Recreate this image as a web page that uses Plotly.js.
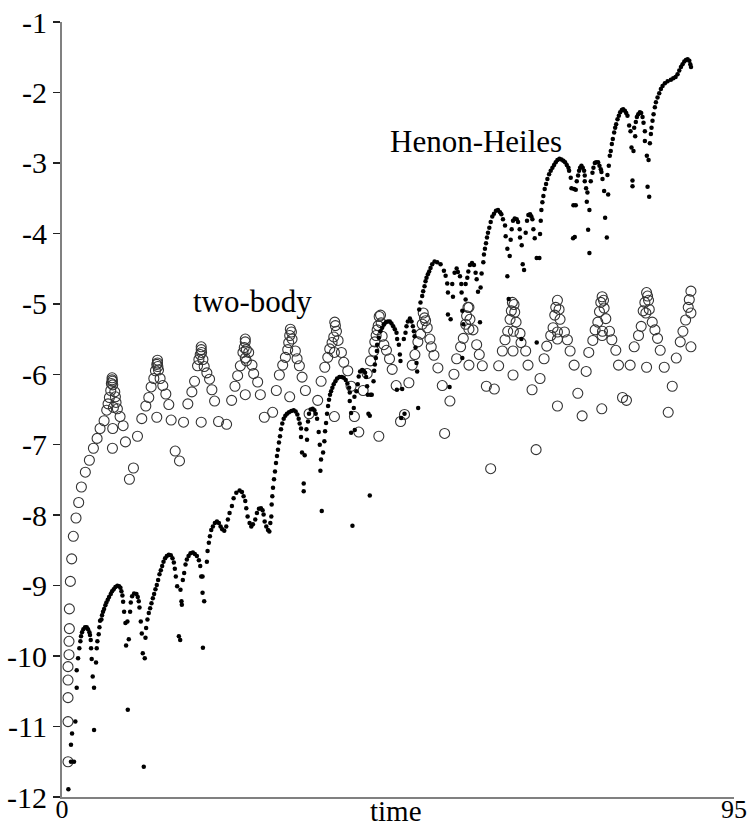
<!DOCTYPE html>
<html>
<head>
<meta charset="utf-8">
<script src="https://cdn.plot.ly/plotly-3.0.1.min.js"></script>
<style>
html,body{margin:0;padding:0;background:#fff;}
#chart{width:751px;height:827px;}
</style>
</head>
<body>
<div id="chart"></div>
<script>
// Henon-Heiles: time and log10 error (filled dots)
var hhTime = [
0.90,1.27,1.70,1.27,1.42,1.89,2.08,2.08,2.27,2.45,2.60,2.69,2.83,3.02,3.26,3.49,3.68,3.87,3.96,4.06,
4.11,4.20,4.34,4.53,4.53,4.81,4.91,5.00,5.19,5.29,5.38,5.57,5.66,5.80,5.95,6.13,6.28,6.47,6.65,6.89,
7.08,7.31,7.55,7.83,8.07,8.26,8.40,8.54,8.64,8.78,8.97,9.06,9.25,9.30,9.44,9.63,9.72,9.91,10.19,10.52,
10.71,10.85,10.95,11.14,11.28,11.42,11.70,11.56,11.80,11.89,12.08,12.27,12.46,12.65,12.84,13.02,13.21,13.40,13.59,13.78,
13.97,14.16,14.35,14.58,14.82,15.10,15.38,15.62,15.81,15.95,16.09,16.28,16.52,16.71,16.75,16.89,16.94,17.08,17.27,17.46,
17.65,17.89,18.17,18.50,18.78,19.07,19.35,19.54,19.68,19.87,19.87,20.10,19.92,20.48,20.58,20.76,
20.91,21.10,21.33,21.61,21.90,22.18,22.42,22.65,22.94,23.22,23.45,23.69,
24.02,24.26,24.64,25.11,25.44,25.67,25.91,26.05,26.24,26.52,26.76,26.99,27.32,27.56,27.84,28.13,28.36,28.50,28.65,28.88,
29.12,29.31,29.45,29.59,29.64,29.73,29.83,29.97,30.11,30.25,30.39,30.53,30.67,30.82,30.96,31.14,31.34,31.57,31.81,32.09,
32.42,32.75,33.03,33.27,33.46,33.60,33.79,33.79,33.93,34.31,34.17,34.17,34.55,34.64,34.78,34.92,35.16,35.44,35.68,35.87,
36.06,36.29,36.44,36.62,36.53,36.72,36.91,37.09,37.19,37.33,37.47,37.61,37.75,37.89,38.04,38.22,38.41,38.65,38.89,39.22,
39.55,39.83,40.11,40.35,40.59,40.68,40.68,40.87,40.87,41.06,41.25,41.34,41.39,41.62,41.81,41.95,42.14,42.43,42.66,42.85,
42.99,43.13,43.23,43.61,43.79,43.32,43.51,43.51,44.04,44.13,44.23,44.37,44.51,44.55,44.79,45.02,45.26,45.49,45.78,46.06,
46.34,46.58,46.82,47.05,47.29,47.38,47.62,47.76,47.85,48.09,47.34,47.95,48.42,48.32,48.56,48.70,48.89,49.18,49.41,49.60,
49.74,49.84,49.98,50.12,50.21,50.35,50.50,50.68,50.92,51.06,51.25,51.39,51.53,51.72,51.91,52.10,52.33,52.67,53.04,
53.52,53.99,54.23,54.46,54.56,54.56,54.94,55.17,55.27,55.50,55.79,55.97,56.26,56.45,56.49,56.59,56.73,57.06,57.06,57.30,
57.44,57.67,57.96,58.24,58.47,58.62,58.81,59.09,59.18,59.32,59.56,56.59,54.79,62.96,63.15,64.94,67.11,
59.65,59.79,59.94,60.08,60.22,60.41,60.60,60.83,61.07,61.35,61.64,61.92,62.11,62.34,62.63,62.72,62.96,63.29,63.43,63.57,
63.76,64.00,64.28,64.47,64.70,64.75,64.99,65.13,65.32,65.55,65.74,65.93,66.17,66.35,66.50,66.64,66.83,67.11,67.49,67.58,
67.68,67.77,67.91,68.05,68.24,68.43,68.62,68.86,69.09,69.33,69.56,69.80,70.04,70.32,70.60,70.88,71.12,71.36,71.59,71.69,
71.92,72.02,72.39,72.63,72.30,72.63,72.49,72.25,72.77,72.96,73.10,73.24,73.43,73.62,73.81,73.90,73.90,74.09,74.28,74.19,
74.56,74.38,74.56,74.75,74.99,75.13,75.32,75.51,75.79,75.98,76.17,76.26,76.41,76.64,77.21,76.78,77.02,77.11,77.30,77.44,
77.58,77.73,77.87,78.06,78.20,78.34,78.53,78.72,78.91,79.14,79.33,79.57,79.76,79.94,80.18,80.37,80.51,80.79,80.65,80.65,
80.89,81.03,81.12,81.27,81.46,81.69,81.88,82.07,82.21,82.40,82.40,82.68,82.92,82.78,83.01,83.11,83.25,83.34,83.48,83.63,
83.81,83.96,84.19,84.43,84.66,84.90,85.23,85.61,86.08,86.41,86.74,87.02,87.26,87.50,87.73,87.97,88.20,88.44,88.68,88.82,88.92
];
var hhLogErr = [
-11.89,-11.50,-11.50,-11.26,-11.10,-10.93,-10.45,-10.20,-10.03,-9.89,-9.79,-9.72,-9.66,-9.62,-9.59,-9.59,-9.62,-9.66,-9.70,-9.77,
-9.89,-10.04,-10.29,-10.45,-11.05,-10.09,-9.89,-9.79,-9.69,-9.59,-9.50,-9.48,-9.42,-9.37,-9.33,-9.28,-9.24,-9.20,-9.16,-9.12,
-9.08,-9.05,-9.02,-9.00,-9.01,-9.03,-9.08,-9.14,-9.23,-9.37,-9.53,-9.85,-9.51,-10.76,-9.76,-9.37,-9.24,-9.15,-9.11,-9.12,
-9.16,-9.22,-9.31,-9.51,-9.68,-9.96,-10.03,-11.57,-9.74,-9.60,-9.48,-9.39,-9.32,-9.25,-9.18,-9.12,-9.05,-8.99,-8.92,-8.84,
-8.78,-8.72,-8.66,-8.61,-8.58,-8.56,-8.57,-8.61,-8.67,-8.76,-8.87,-9.01,-9.72,-9.77,-9.06,-9.22,-9.27,-8.92,-8.82,-8.70,
-8.63,-8.58,-8.54,-8.53,-8.55,-8.58,-8.64,-8.72,-8.87,-8.87,-9.10,-9.22,-9.88,-8.66,-8.51,-8.39,
-8.30,-8.21,-8.16,-8.11,-8.09,-8.11,-8.16,-8.20,-8.22,-8.16,-8.06,-7.97,
-7.87,-7.76,-7.68,-7.65,-7.67,-7.73,-7.80,-7.90,-8.02,-8.11,-8.16,-8.13,-8.06,-7.97,-7.91,-7.90,-7.93,-7.99,-8.09,-8.16,
-8.21,-8.23,-8.11,-8.02,-7.85,-7.73,-7.61,-7.49,-7.38,-7.26,-7.16,-7.07,-6.97,-6.88,-6.78,-6.70,-6.63,-6.59,-6.56,-6.54,
-6.52,-6.51,-6.53,-6.57,-6.63,-6.70,-6.77,-6.89,-7.11,-7.15,-7.55,-7.66,-6.78,-6.93,-6.67,-6.56,-6.50,-6.49,-6.51,-6.56,
-6.63,-6.82,-7.00,-7.21,-7.37,-7.94,-7.11,-6.95,-6.81,-6.69,-6.56,-6.45,-6.36,-6.29,-6.24,-6.19,-6.14,-6.10,-6.06,-6.04,
-6.04,-6.05,-6.08,-6.13,-6.19,-6.26,-6.38,-6.55,-6.83,-8.15,-6.48,-6.32,-6.79,-6.24,-6.14,-6.03,-5.96,-5.94,-5.95,-5.98,
-6.04,-6.17,-6.29,-6.29,-6.29,-6.56,-6.59,-7.72,-6.10,-5.95,-5.86,-5.77,-5.67,-5.58,-5.48,-5.39,-5.34,-5.29,-5.26,-5.25,
-5.25,-5.28,-5.32,-5.36,-5.41,-5.50,-5.58,-5.72,-5.81,-6.21,-6.22,-6.62,-6.56,-5.50,-5.41,-5.32,-5.25,-5.21,-5.25,-5.32,
-5.39,-5.46,-5.62,-5.84,-5.96,-6.48,-5.08,-4.98,-4.89,-4.82,-4.75,-4.68,-4.63,-4.58,-4.54,-4.49,-4.44,-4.40,-4.41,
-4.44,-4.53,-4.60,-4.71,-4.84,-5.15,-5.22,-4.72,-4.90,-4.56,-4.50,-4.55,-4.61,-4.72,-4.84,-5.10,-5.29,-4.94,-4.72,-4.63,
-4.54,-4.45,-4.42,-4.45,-4.56,-4.65,-4.83,-5.26,-4.77,-4.57,-4.41,-5.77,-6.18,-4.61,-4.93,-5.50,-5.55,
-4.30,-4.22,-4.14,-4.06,-3.99,-3.92,-3.84,-3.76,-3.72,-3.68,-3.67,-3.70,-3.73,-3.80,-3.89,-4.04,-4.22,-4.32,-4.09,-3.94,
-3.82,-3.79,-3.80,-3.84,-3.94,-4.06,-4.17,-4.44,-4.52,-3.99,-3.82,-3.74,-3.73,-3.76,-3.80,-3.94,-4.07,-4.35,-4.35,-4.01,
-3.82,-3.67,-3.56,-3.47,-3.37,-3.30,-3.23,-3.16,-3.11,-3.07,-3.03,-2.99,-2.96,-2.94,-2.95,-2.97,-2.99,-3.03,-3.07,-3.11,
-3.21,-3.36,-3.37,-3.38,-3.60,-3.60,-4.05,-4.07,-3.26,-3.18,-3.11,-3.07,-3.04,-3.07,-3.11,-3.18,-3.26,-3.36,-3.42,-3.55,
-3.67,-3.95,-4.28,-3.26,-3.14,-3.07,-3.00,-2.99,-2.99,-3.04,-3.09,-3.13,-3.23,-3.40,-3.45,-3.78,-4.06,-3.17,-3.04,-2.90,
-2.83,-2.73,-2.66,-2.57,-2.50,-2.45,-2.38,-2.33,-2.28,-2.25,-2.24,-2.26,-2.29,-2.33,-2.47,-2.55,-2.78,-2.83,-3.25,-3.33,
-2.50,-2.62,-2.42,-2.35,-2.31,-2.28,-2.29,-2.35,-2.43,-2.55,-2.69,-2.90,-2.96,-3.34,-3.48,-2.72,-2.59,-2.50,-2.40,-2.31,
-2.21,-2.14,-2.07,-2.01,-1.95,-1.91,-1.87,-1.84,-1.82,-1.80,-1.78,-1.74,-1.69,-1.64,-1.60,-1.56,-1.54,-1.53,-1.55,-1.60,-1.64
];

// Two-body: time and log10 error (open circles)
var tbTime = [
0.85,0.85,0.85,0.85,0.85,0.99,0.99,1.04,1.04,1.18,1.37,
1.60,1.98,2.36,2.74,3.30,3.87,4.44,4.96,5.38,5.95,6.32,6.51,6.70,6.89,6.98,7.08,7.08,7.13,7.17,
7.27,7.17,7.13,7.46,7.55,7.64,7.83,8.21,8.64,8.97,9.53,10.10,10.67,11.28,11.85,12.27,12.60,12.98,13.21,13.40,
13.50,13.50,13.55,13.64,13.40,13.87,14.25,14.68,15.10,15.43,16.00,16.61,17.18,17.79,18.36,18.74,19.16,19.35,19.54,19.68,
19.68,19.73,19.92,20.10,20.48,20.86,21.19,21.57,19.68,22.13,23.27,
23.98,24.45,24.83,25.21,25.58,25.77,25.91,25.91,26.06,25.91,26.06,26.39,26.86,27.09,27.66,28.04,25.91,28.60,29.78,30.30,
30.73,31.20,31.58,31.91,32.05,32.19,32.28,32.43,32.52,32.99,33.23,33.56,33.94,34.41,32.19,34.93,36.15,36.63,37.15,37.57,
37.85,38.18,38.42,38.56,38.65,38.80,39.03,38.51,39.50,39.83,40.40,40.87,38.51,41.34,41.96,42.57,43.14,43.61,44.08,44.22,
44.41,44.55,44.70,44.84,45.03,45.12,45.26,45.50,45.87,46.30,46.68,47.24,44.79,47.86,48.42,49.04,49.51,49.89,50.31,50.69,
50.92,51.07,51.25,51.40,51.63,52.01,52.20,52.58,53.14,
53.76,54.09,54.84,55.41,55.79,56.35,56.73,57.06,57.20,57.39,57.53,57.67,57.53,58.10,58.62,58.99,59.42,57.53,59.99,61.12,
61.73,62.25,62.63,63.01,63.34,63.52,63.67,63.90,64.00,63.81,64.19,63.76,63.76,64.75,64.89,65.55,65.88,66.45,67.58,68.15,
68.53,69.09,69.42,69.66,69.80,70.04,70.27,70.41,70.04,70.04,71.03,71.45,71.83,72.40,70.04,72.92,73.53,74.10,74.47,75.04,
75.37,75.75,75.98,76.17,76.36,76.55,76.64,76.88,76.41,76.36,77.40,77.73,78.29,78.67,76.31,79.24,79.80,80.32,80.89,81.50,
81.88,82.16,82.40,82.64,82.78,82.92,83.02,82.54,82.64,83.44,83.82,84.19,84.57,85.14,86.27,85.70,86.84,87.40,87.78,88.16,
88.53,88.68,88.91,88.91,88.91,67.02,60.60
];
var tbLogErr = [
-11.50,-10.93,-10.59,-10.34,-10.15,-9.98,-9.79,-9.61,-9.33,-8.94,-8.62,
-8.30,-8.04,-7.82,-7.60,-7.39,-7.22,-7.05,-6.91,-6.77,-6.66,-6.51,-6.42,-6.33,-6.23,-6.13,-6.08,-6.05,-6.10,-6.15,
-6.47,-6.77,-7.05,-6.25,-6.32,-6.40,-6.49,-6.60,-6.73,-6.96,-7.49,-7.33,-6.88,-6.63,-6.45,-6.33,-6.18,-6.06,-5.95,-5.86,
-5.80,-5.84,-5.89,-5.94,-6.61,-6.06,-6.16,-6.28,-6.43,-6.65,-7.09,-7.23,-6.68,-6.42,-6.25,-6.10,-5.88,-5.79,-5.72,-5.61,
-5.65,-5.69,-5.79,-5.89,-5.98,-6.07,-6.22,-6.38,-6.68,-6.67,-6.71,
-6.37,-6.17,-6.02,-5.88,-5.69,-5.62,-5.54,-5.50,-5.65,-5.77,-5.81,-5.69,-5.87,-5.99,-6.11,-6.29,-6.29,-6.61,-6.54,-6.23,
-6.01,-5.87,-5.76,-5.65,-5.55,-5.45,-5.36,-5.40,-5.50,-5.67,-5.78,-5.88,-6.04,-6.23,-6.32,-6.56,-6.37,-6.10,-5.90,-5.76,
-5.64,-5.55,-5.47,-5.26,-5.31,-5.39,-5.52,-5.69,-5.69,-5.83,-5.95,-6.17,-6.60,-6.60,-6.82,-6.23,-5.99,-5.81,-5.67,-5.54,
-5.45,-5.37,-5.31,-5.18,-5.16,-5.27,-5.46,-5.58,-5.66,-5.78,-5.93,-6.16,-6.88,-6.67,-6.57,-6.12,-5.87,-5.72,-5.54,-5.43,
-5.29,-5.13,-5.20,-5.24,-5.34,-5.50,-5.61,-5.73,-5.91,
-6.16,-6.84,-6.38,-6.00,-5.78,-5.61,-5.49,-5.29,-5.17,-5.05,-5.05,-5.22,-5.36,-5.37,-5.58,-5.72,-5.88,-5.87,-6.17,-6.21,
-5.88,-5.67,-5.51,-5.39,-5.22,-5.10,-4.98,-5.01,-5.12,-5.39,-5.26,-5.67,-6.01,-5.42,-5.55,-5.67,-5.87,-6.22,-6.06,-5.78,
-5.60,-5.45,-5.34,-5.16,-5.05,-4.95,-5.08,-5.22,-5.40,-5.50,-5.40,-5.51,-5.67,-5.87,-6.45,-6.27,-6.59,-5.96,-5.69,-5.52,
-5.37,-5.26,-5.11,-4.98,-4.90,-4.95,-5.06,-5.21,-5.39,-5.45,-5.39,-5.51,-5.66,-5.87,-6.49,-6.33,-6.37,-5.87,-5.61,-5.45,
-5.32,-5.10,-4.98,-4.84,-4.89,-4.95,-5.08,-5.13,-5.90,-5.26,-5.37,-5.49,-5.66,-5.90,-6.17,-6.54,-5.77,-5.54,-5.39,-5.23,
-5.05,-4.94,-4.82,-5.13,-5.61,-7.07,-7.34
];

// Axis ticks and labels
var yTickVals = [-12,-11,-10,-9,-8,-7,-6,-5,-4,-3,-2,-1];
var yTickText = ["-12","-11","-10","-9","-8","-7","-6","-5","-4","-3","-2","-1"];
var xTickVals = [0, 95];
var xTickText = ["0", "95"];
var seriesNames = ["two-body", "Henon-Heiles"];
var xTitle = "time";

var serif = "Liberation Serif, Times New Roman, serif";

var traces = [
  {
    x: tbTime, y: tbLogErr, type: "scatter", mode: "markers", name: seriesNames[0],
    marker: {symbol: "circle-open", size: 10, color: "#333", line: {width: 1.1, color: "#333"}},
    cliponaxis: false
  },
  {
    x: hhTime, y: hhLogErr, type: "scatter", mode: "markers", name: seriesNames[1],
    marker: {symbol: "circle", size: 4.5, color: "#000"},
    cliponaxis: false
  }
];

var layout = {
  width: 751, height: 827,
  margin: {l: 62, r: 17, t: 22, b: 30, pad: 0},
  paper_bgcolor: "#fff", plot_bgcolor: "#fff",
  showlegend: false,
  font: {family: serif, size: 30, color: "#000"},
  xaxis: {
    range: [0, 95], showgrid: false, zeroline: false,
    showline: true, linecolor: "#808080", linewidth: 2,
    tickvals: xTickVals, ticktext: xTickText, ticks: "",
    ticklabelstandoff: -12,
    tickfont: {family: serif, size: 26, color: "#000"}
  },
  yaxis: {
    range: [-12, -1], showgrid: false, zeroline: false,
    showline: true, linecolor: "#808080", linewidth: 2,
    tickvals: yTickVals, ticktext: yTickText,
    ticks: "outside", ticklen: 7, tickwidth: 1.5, tickcolor: "#222",
    tickfont: {family: serif, size: 30, color: "#000"}
  },
  annotations: [
    {text: xTitle, xref: "paper", yref: "paper", x: 0.497, y: 0, xanchor: "center", yanchor: "top",
     yshift: 4, showarrow: false, font: {family: serif, size: 29, color: "#000"}},
    {text: seriesNames[0], xref: "x", yref: "y", x: 26.9, y: -4.96, xanchor: "center", yanchor: "middle",
     showarrow: false, font: {family: serif, size: 31, color: "#000"}},
    {text: seriesNames[1], xref: "x", yref: "y", x: 58.5, y: -2.70, xanchor: "center", yanchor: "middle",
     showarrow: false, font: {family: serif, size: 31, color: "#000"}}
  ]
};

Plotly.newPlot("chart", traces, layout, {staticPlot: true, displayModeBar: false});
</script>
</body>
</html>
